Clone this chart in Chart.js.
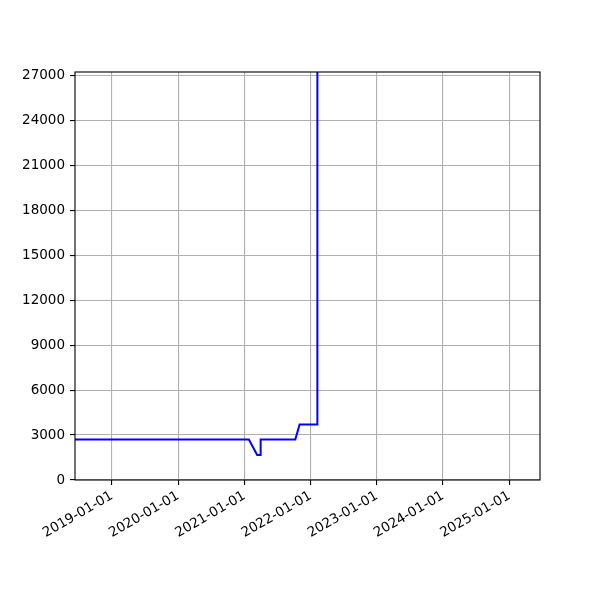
<!DOCTYPE html>
<html lang="en">
<head>
    <meta charset="UTF-8">
    <title>Line chart</title>
    <script src="https://cdn.jsdelivr.net/npm/chart.js"></script>
    <style>
        body {
            margin: 0;
            background-color: #fff;
        }
        #chart {
            display: block;
        }
    </style>
</head>
<body>
    <canvas id="chart" width="600" height="600"></canvas>

    <script>
        // values
        const dates = ['2018-06-11', '2021-01-25', '2021-03-12', '2021-03-31', '2021-03-31',
                       '2021-10-08', '2021-11-01', '2022-02-06', '2022-02-06', '2022-02-08'];
        const values = [2700, 2700, 1670, 1670, 2700, 2700, 3700, 3700, 22800, 27220];

        const xTickLabels = ['2019-01-01', '2020-01-01', '2021-01-01', '2022-01-01',
                             '2023-01-01', '2024-01-01', '2025-01-01'];
        const yTicks = [0, 3000, 6000, 9000, 12000, 15000, 18000, 21000, 24000, 27000];

        const xMin = Date.parse('2018-06-11');
        const xMax = Date.parse('2025-06-19');
        const yMax = 27220;

        const points = dates.map((d, i) => ({ x: Date.parse(d), y: values[i] }));

        // matplotlib-like frame on all four sides
        const framePlugin = {
            id: 'frame',
            afterDraw(chart) {
                const a = chart.chartArea;
                const ctx = chart.ctx;
                ctx.save();
                ctx.strokeStyle = '#000';
                ctx.lineWidth = 1.1;
                ctx.strokeRect(a.left, a.top, a.right - a.left, a.bottom - a.top);
                ctx.restore();
            }
        };

        const font = { family: 'DejaVu Sans', size: 13.5 };

        new Chart(document.getElementById('chart'), {
            type: 'line',
            data: {
                datasets: [{
                    data: points,
                    borderColor: '#0000ff',
                    borderWidth: 2,
                    pointRadius: 0,
                    tension: 0,
                    fill: false
                }]
            },
            options: {
                responsive: false,
                animation: false,
                devicePixelRatio: 1,
                layout: { padding: { left: 0, top: 72, right: 60, bottom: 0 } },
                plugins: {
                    legend: { display: false },
                    tooltip: { enabled: false }
                },
                scales: {
                    x: {
                        type: 'linear',
                        min: xMin,
                        max: xMax,
                        afterBuildTicks(scale) {
                            scale.ticks = xTickLabels.map(l => ({ value: Date.parse(l), label: l }));
                        },
                        afterFit(scale) { scale.height = 120; },
                        ticks: {
                            callback(value) {
                                return new Date(value).toISOString().slice(0, 10);
                            },
                            minRotation: 30,
                            maxRotation: 30,
                            autoSkip: false,
                            color: '#000',
                            padding: 3,
                            font: font
                        },
                        grid: {
                            color: '#b0b0b0',
                            lineWidth: 1.1,
                            tickColor: '#000',
                            tickLength: 5
                        },
                        border: { display: false }
                    },
                    y: {
                        min: 0,
                        max: yMax,
                        afterBuildTicks(scale) {
                            scale.ticks = yTicks.map(v => ({ value: v }));
                        },
                        afterFit(scale) { scale.width = 75; },
                        ticks: {
                            callback: v => String(v),
                            color: '#000',
                            padding: 5,
                            font: font
                        },
                        grid: {
                            color: '#b0b0b0',
                            lineWidth: 1.1,
                            tickColor: '#000',
                            tickLength: 5
                        },
                        border: { display: false }
                    }
                }
            },
            plugins: [framePlugin]
        });
    </script>
</body>
</html>
